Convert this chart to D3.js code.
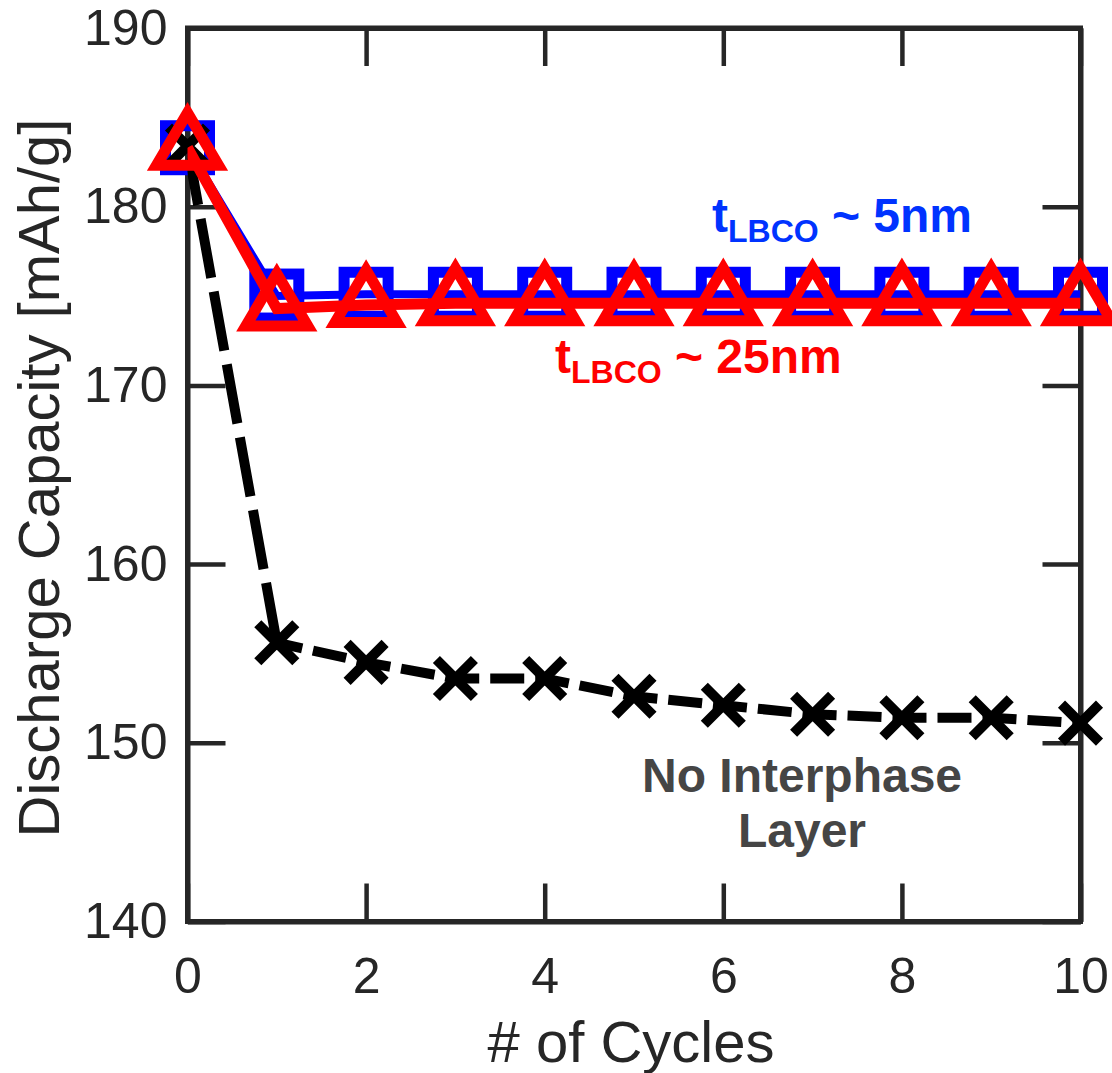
<!DOCTYPE html>
<html>
<head>
<meta charset="utf-8">
<script src="https://cdn.jsdelivr.net/npm/d3@7/dist/d3.min.js"></script>
<style>
  body { margin: 0; background: #fff; }
  svg { display: block; font-family: "Liberation Sans", Arial, Helvetica, sans-serif; }
</style>
</head>
<body>
<div id="chart"></div>
<script>
// data
var cycles = [0, 1, 2, 3, 4, 5, 6, 7, 8, 9, 10];
var cap5nm  = [183.3, 175.0, 175.1, 175.1, 175.1, 175.1, 175.1, 175.1, 175.1, 175.1, 175.1];
var cap25nm = [183.3, 174.3, 174.5, 174.6, 174.6, 174.6, 174.6, 174.6, 174.6, 174.6, 174.6];
var capNone = [183.4, 155.6, 154.5, 153.6, 153.6, 152.6, 152.1, 151.6, 151.4, 151.4, 151.1];
var xTicks = [0, 2, 4, 6, 8, 10];
var yTicks = [140, 150, 160, 170, 180, 190];

// set the dimensions and margins of the graph
var margin = {top: 28, right: 31.5, bottom: 151.5, left: 187.5},
    width = 1112 - margin.left - margin.right,
    height = 1073 - margin.top - margin.bottom;

var axisColor = "#262626";

// set the ranges
var x = d3.scaleLinear().domain([0, 10]).range([0, width]);
var y = d3.scaleLinear().domain([140, 190]).range([height, 0]);

var svg = d3.select("#chart").append("svg")
    .attr("width", 1112)
    .attr("height", 1073);

var g = svg.append("g")
    .attr("transform", "translate(" + margin.left + "," + margin.top + ")");

svg.append("defs").append("clipPath")
    .attr("id", "plotclip")
  .append("rect")
    .attr("width", width)
    .attr("height", height);

// axes, ticks inward on all four sides
g.append("g")
    .attr("transform", "translate(0," + height + ")")
    .call(d3.axisBottom(x).tickValues(xTicks).tickSizeInner(-38).tickSizeOuter(0).tickPadding(36));
g.append("g")
    .call(d3.axisTop(x).tickValues(xTicks).tickSizeInner(-38).tickSizeOuter(0).tickFormat(""));
g.append("g")
    .call(d3.axisLeft(y).tickValues(yTicks).tickSizeInner(-38).tickSizeOuter(0).tickPadding(20));
g.append("g")
    .attr("transform", "translate(" + width + ",0)")
    .call(d3.axisRight(y).tickValues(yTicks).tickSizeInner(-38).tickSizeOuter(0).tickFormat(""));

g.selectAll(".domain").attr("stroke", axisColor).attr("stroke-width", 5);
g.selectAll(".tick line").attr("stroke", axisColor).attr("stroke-width", 4.5);
g.selectAll(".tick text")
    .attr("fill", axisColor)
    .style("font-size", "50px")
    .style("font-family", "'Liberation Sans', Arial, sans-serif");

// the box round the plot
g.append("rect")
    .attr("width", width)
    .attr("height", height)
    .attr("fill", "none")
    .attr("stroke", axisColor)
    .attr("stroke-width", 5)
    .attr("stroke-linejoin", "miter");

function pts(vals) {
  return cycles.map(function(c, i) { return [c, vals[i]]; });
}

var line = d3.line()
    .x(function(d) { return x(d[0]); })
    .y(function(d) { return y(d[1]); });

var plot = g.append("g");

// blue: squares
plot.append("path")
    .datum(pts(cap5nm))
    .attr("clip-path", "url(#plotclip)")
    .attr("d", line)
    .attr("fill", "none")
    .attr("stroke", "#0000ff")
    .attr("stroke-width", 8);
plot.selectAll(".sq")
    .data(pts(cap5nm))
  .enter().append("rect")
    .attr("x", function(d) { return x(d[0]) - 22; })
    .attr("y", function(d) { return y(d[1]) - 22; })
    .attr("width", 44)
    .attr("height", 44)
    .attr("fill", "none")
    .attr("stroke", "#0000ff")
    .attr("stroke-width", 11);

// black: dashed with crosses (first drop drawn with longer dashes)
var black = pts(capNone);
plot.append("path")
    .datum(black.slice(0, 2))
    .attr("clip-path", "url(#plotclip)")
    .attr("d", line)
    .attr("fill", "none")
    .attr("stroke", "#000")
    .attr("stroke-width", 10)
    .attr("stroke-dasharray", "60,14");
plot.append("path")
    .datum(black.slice(1))
    .attr("clip-path", "url(#plotclip)")
    .attr("d", line)
    .attr("fill", "none")
    .attr("stroke", "#000")
    .attr("stroke-width", 10)
    .attr("stroke-dasharray", "34,11")
    .attr("stroke-dashoffset", 8);
plot.selectAll(".xm")
    .data(black)
  .enter().append("path")
    .attr("transform", function(d) { return "translate(" + x(d[0]) + "," + y(d[1]) + ")"; })
    .attr("d", "M-19,-19L19,19M-19,19L19,-19")
    .attr("fill", "none")
    .attr("stroke", "#000")
    .attr("stroke-width", 10);

// red: triangles
plot.append("path")
    .datum(pts(cap25nm))
    .attr("clip-path", "url(#plotclip)")
    .attr("d", line)
    .attr("fill", "none")
    .attr("stroke", "#ff0000")
    .attr("stroke-width", 11);
plot.selectAll(".tri")
    .data(pts(cap25nm))
  .enter().append("path")
    .attr("transform", function(d) { return "translate(" + x(d[0]) + "," + y(d[1]) + ")"; })
    .attr("d", "M0,-35L31,17.5L-31,17.5Z")
    .attr("fill", "none")
    .attr("stroke", "#ff0000")
    .attr("stroke-width", 11)
    .attr("stroke-linejoin", "miter");

// annotations
function subLabel(px, py, color, tail) {
  var t = svg.append("text")
      .attr("x", px)
      .attr("y", py)
      .attr("fill", color)
      .style("font-weight", "bold")
      .style("font-size", "48px");
  t.append("tspan").text("t");
  t.append("tspan").attr("dy", 10).style("font-size", "32px").text("LBCO");
  t.append("tspan").attr("dy", -10).text(" ~ " + tail);
}
subLabel(712, 232, "#0033ff", "5nm");
subLabel(555, 373, "#ff0000", "25nm");

svg.append("text")
    .attr("x", 802)
    .attr("y", 792)
    .attr("text-anchor", "middle")
    .attr("fill", "#454545")
    .style("font-weight", "bold")
    .style("font-size", "48px")
    .text("No Interphase");
svg.append("text")
    .attr("x", 802)
    .attr("y", 847)
    .attr("text-anchor", "middle")
    .attr("fill", "#454545")
    .style("font-weight", "bold")
    .style("font-size", "48px")
    .text("Layer");

// axis labels
svg.append("text")
    .attr("x", 631)
    .attr("y", 1062)
    .attr("text-anchor", "middle")
    .attr("fill", axisColor)
    .style("font-size", "58px")
    .text("# of Cycles");

svg.append("text")
    .attr("transform", "translate(59,478) rotate(-90)")
    .attr("text-anchor", "middle")
    .attr("fill", axisColor)
    .style("font-size", "58px")
    .text("Discharge Capacity [mAh/g]");
</script>
</body>
</html>
